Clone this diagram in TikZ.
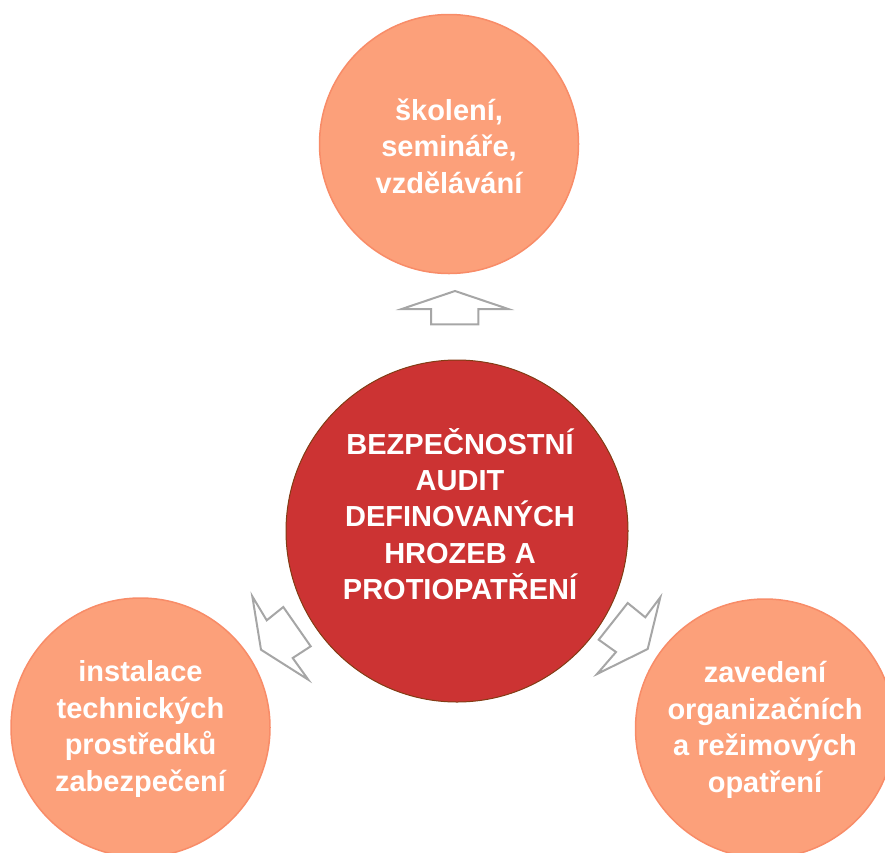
\documentclass[tikz,border=0pt]{standalone}
\usepackage{fontspec}
\setmainfont{Liberation Sans}
\definecolor{outerfill}{RGB}{252,160,122}
\definecolor{outerline}{RGB}{248,140,104}
\definecolor{centerfill}{RGB}{204,51,51}
\definecolor{centerline}{RGB}{130,60,20}
\definecolor{arrowgray}{RGB}{166,166,166}
\tikzset{
  outercircle/.style={circle, fill=outerfill, draw=outerline, line width=1.5pt, minimum size=259pt, inner sep=0pt},
  centercircle/.style={circle, fill=centerfill, draw=centerline, line width=1pt, minimum size=342pt, inner sep=0pt},
  circletext/.style={text=white, align=center, font=\bfseries\fontsize{29}{36.6}\selectfont, inner sep=0pt},
  blockarrow/.style={draw=arrowgray, fill=white, line width=2pt, line join=miter}
}
\begin{document}
\begin{tikzpicture}[x=1pt,y=-1pt]
\useasboundingbox (0,0) rectangle (885,852);
% circles
\node[outercircle] (top) at (449,144) {};
\node[outercircle] (left) at (140.5,727.5) {};
\node[outercircle] (right) at (765,728.5) {};
\node[centercircle] (center) at (457,531) {};
% texts
\node[circletext] (toptext) at (449,146) {školení,\\semináře,\\vzdělávání};
\node[circletext] (lefttext) at (140.5,729) {instalace\\technických\\prostředků\\zabezpečení};
\node[circletext] (righttext) at (765,730) {zavedení\\organizačních\\a režimových\\opatření};
\node[circletext, font=\fontsize{29}{36.2}\selectfont\bfseries] (centertext) at (460,514) {BEZPEČNOSTNÍ\\AUDIT\\DEFINOVANÝCH\\HROZEB A\\PROTIOPATŘENÍ};
% arrows
\draw[blockarrow] (455,291) -- (401.7,309) -- (431,309) -- (431,324.3) -- (478.3,324.3) -- (478.3,309) -- (508.3,309) -- cycle;
\draw[blockarrow] (252.3,596.3) -- (266.7,620.3) -- (283.3,607) -- (310.7,646.3) -- (292.7,658) -- (308.3,679.7) -- (261,649.7) -- cycle;
\draw[blockarrow] (660.3,597.3) -- (645.3,617.3) -- (627.7,603) -- (598.7,639.7) -- (616,652) -- (597,674) -- (647.7,649) -- cycle;
\end{tikzpicture}
\end{document}
